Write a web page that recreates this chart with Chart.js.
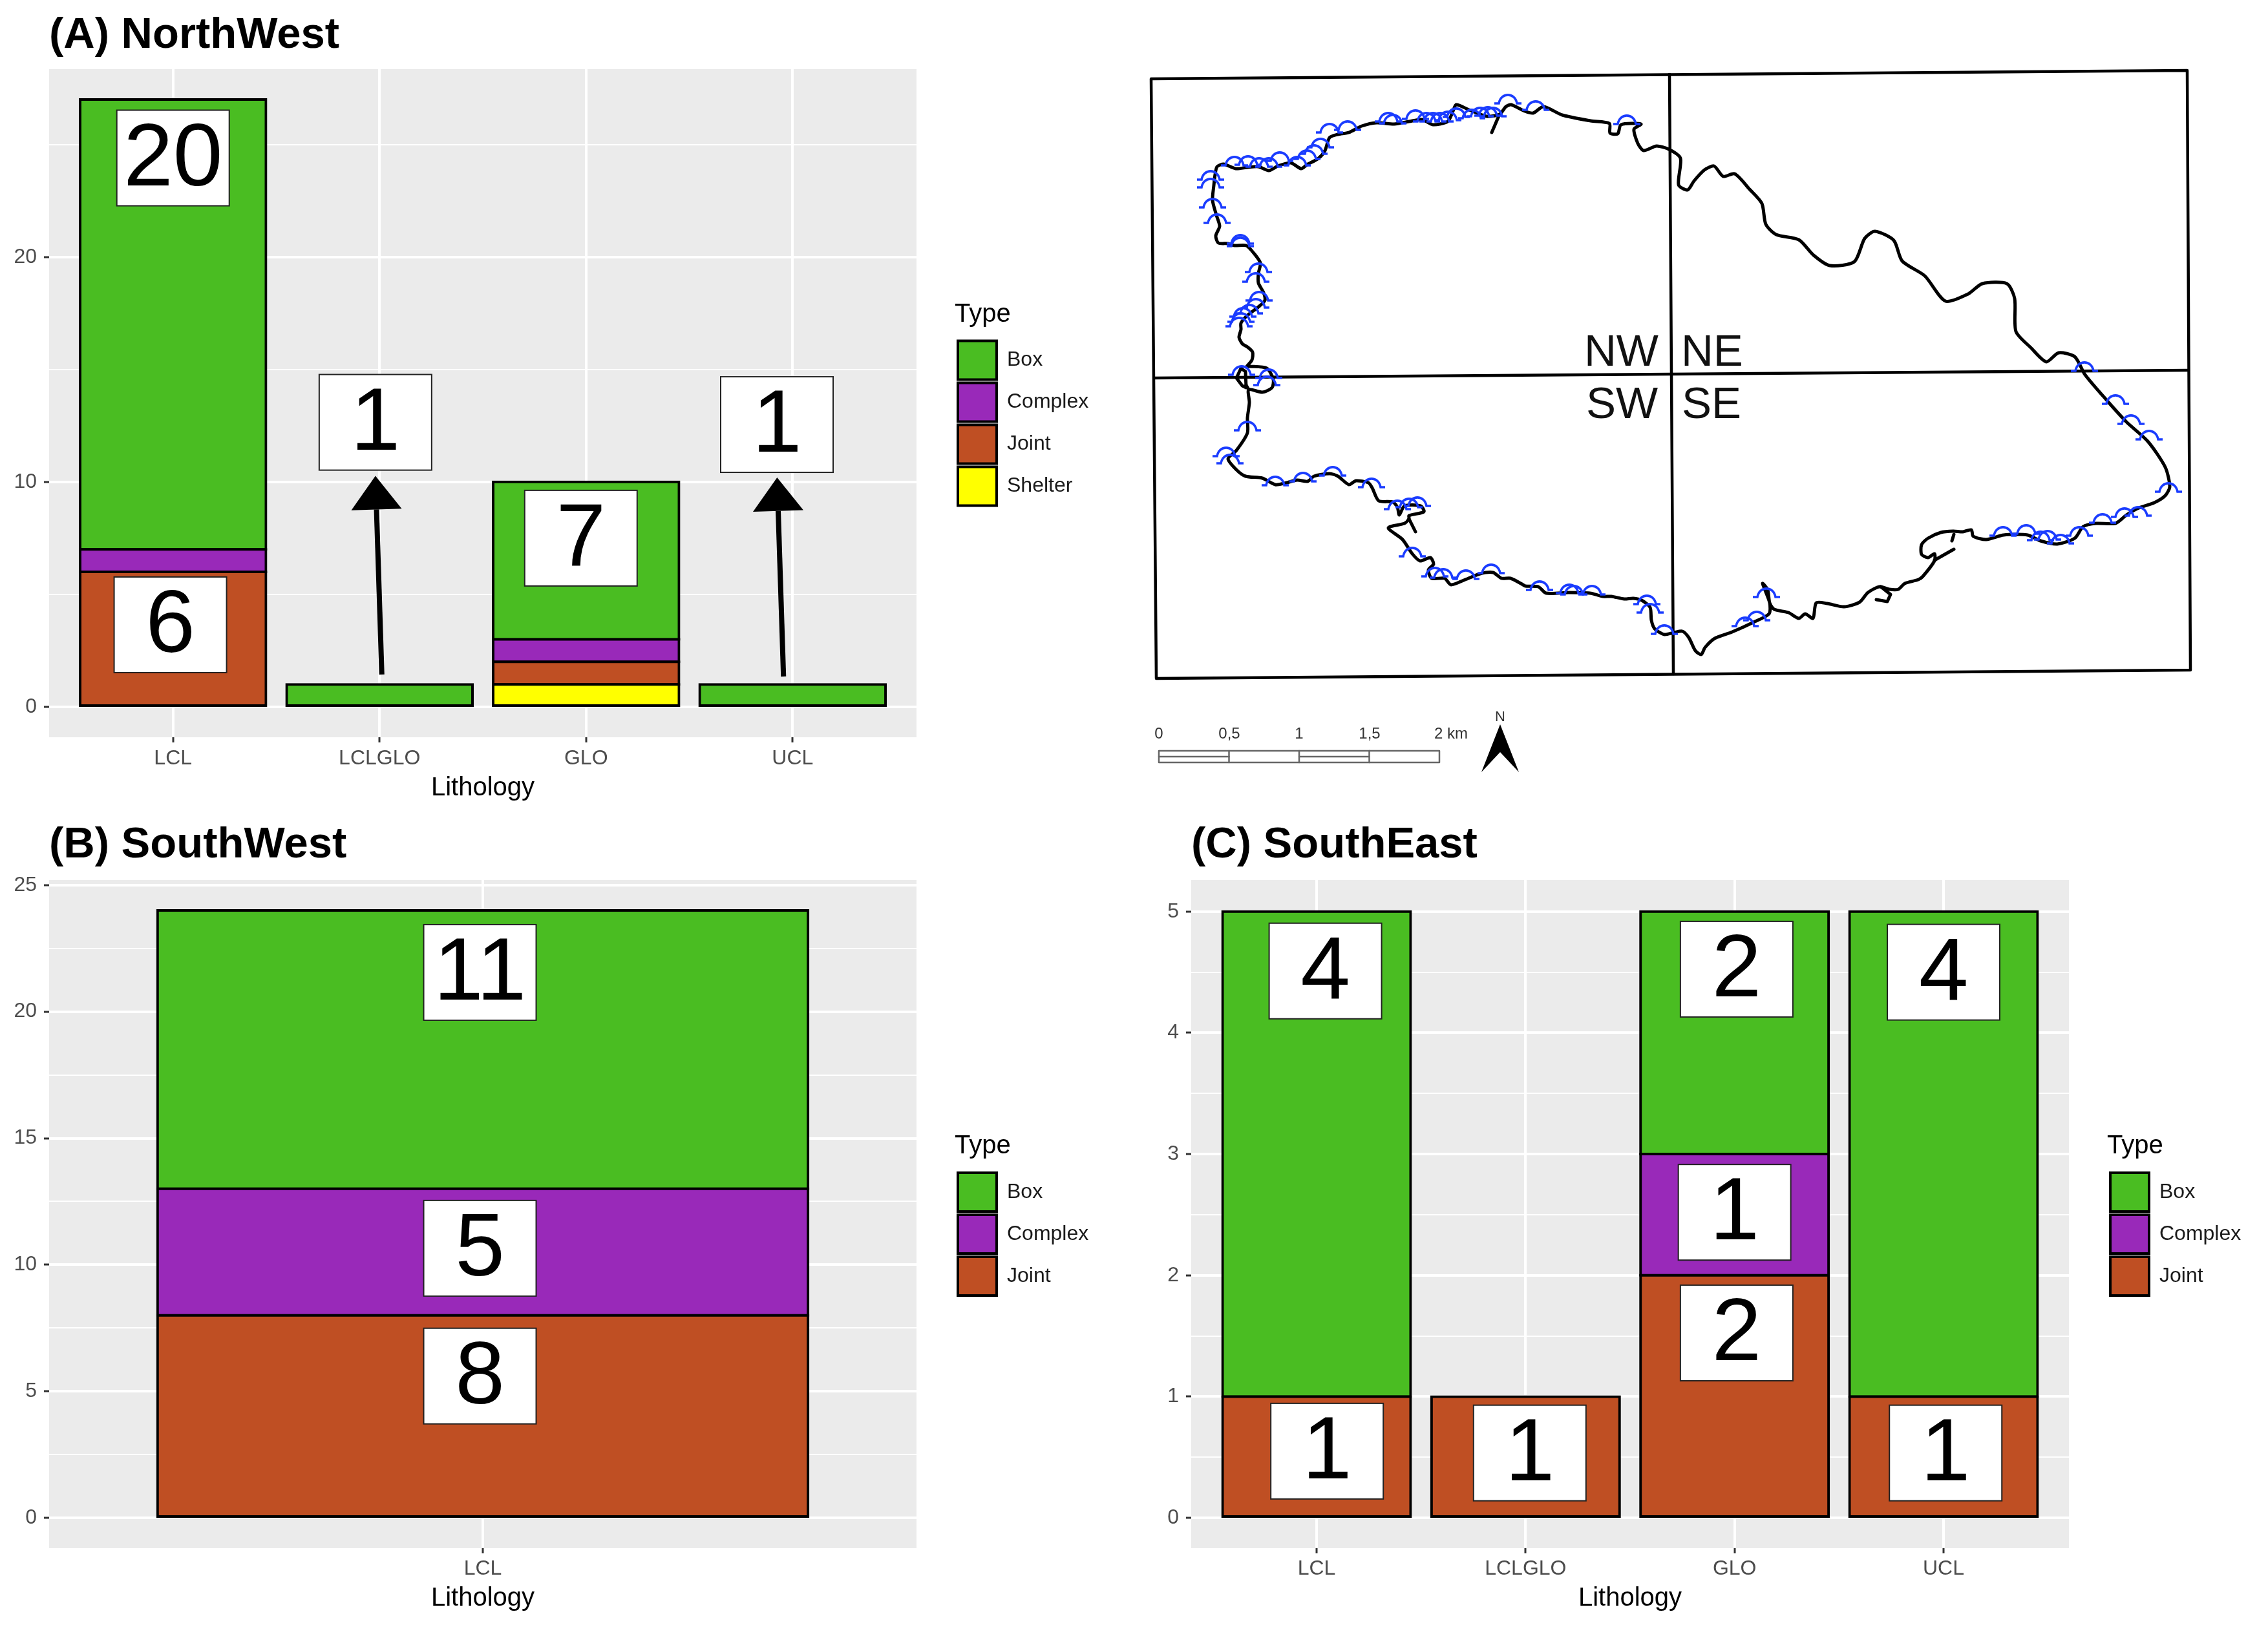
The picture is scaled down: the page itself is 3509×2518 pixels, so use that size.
<!DOCTYPE html>
<html>
<head>
<meta charset="utf-8">
<title>Lithology by type</title>
<script src="https://cdn.jsdelivr.net/npm/chart.js@4"></script>
<style>
  html, body { margin: 0; background: #fff; }
  body { position: relative; width: 3509px; height: 2518px; overflow: hidden; }
  canvas { position: absolute; }
</style>
</head>
<body>
<canvas id="panelA" width="1750" height="1260" style="left:0;top:0"></canvas>
<canvas id="panelMap" width="1700" height="1150" style="left:1750px;top:80px"></canvas>
<canvas id="panelB" width="1750" height="1258" style="left:0;top:1260px"></canvas>
<canvas id="panelC" width="1729" height="1258" style="left:1780px;top:1260px"></canvas>
<script>
// Panel A, NorthWest
const catsA = ["LCL", "LCLGLO", "GLO", "UCL"];
const boxA = [20, 1, 7, 1];
const complexA = [1, 0, 1, 0];
const jointA = [6, 0, 1, 0];
const shelterA = [0, 0, 1, 0];
const ticksA = [0, 10, 20];

// Panel B, SouthWest
const catsB = ["LCL"];
const boxB = [11];
const complexB = [5];
const jointB = [8];
const ticksB = [0, 5, 10, 15, 20, 25];

// Panel C, SouthEast
const catsC = ["LCL", "LCLGLO", "GLO", "UCL"];
const boxC = [4, 0, 2, 4];
const complexC = [0, 0, 1, 0];
const jointC = [1, 1, 2, 1];
const ticksC = [0, 1, 2, 3, 4, 5];

const typeColors = { Box: "#4ABD22", Complex: "#9929B9", Joint: "#BF4F23", Shelter: "#FFFF00" };

// white count labels placed over the bars, in axis units
const labelsA = [
  { text: "20", x: 1.0, y: 24.4 }, { text: "6", x: 0.987, y: 3.65 },
  { text: "1", x: 1.98, y: 12.65 }, { text: "7", x: 2.975, y: 7.5 },
  { text: "1", x: 3.924, y: 12.55 },
];
const labelsB = [
  { text: "11", x: 0.996, y: 21.55 }, { text: "5", x: 0.996, y: 10.65 }, { text: "8", x: 0.996, y: 5.6 },
];
const labelsC = [
  { text: "4", x: 1.042, y: 4.51 }, { text: "1", x: 1.05, y: 0.55 },
  { text: "1", x: 2.02, y: 0.535 }, { text: "2", x: 3.01, y: 4.525 },
  { text: "1", x: 3.0, y: 2.52 }, { text: "2", x: 3.01, y: 1.525 },
  { text: "4", x: 4.0, y: 4.5 }, { text: "1", x: 4.01, y: 0.535 },
];
const arrowsA = [
  { x0: 2.011, y0: 1.44, x1: 1.98, y1: 10.27 },
  { x0: 3.956, y0: 1.35, x1: 3.925, y1: 10.2 },
];

// Map outline
const coast = [
  [1929,567],[1937,557],[1938,545],[1930,537],[1922,532],[1917,522],[1920,510],[1920,500],[1930,488],[1947,475],
  [1957,465],[1955,453],[1947,438],[1947,423],[1950,407],[1940,392],[1928,380],[1910,380],[1900,377],[1885,376],
  [1881,365],[1887,350],[1882,333],[1876,310],[1878,287],[1880,270],[1883,258],[1893,254],[1912,261],[1930,259],
  [1947,258],[1963,264],[1977,257],[1997,252],[2013,261],[2022,255],[2040,245],[2050,233],[2057,213],[2070,208],
  [2087,205],[2107,195],[2130,190],[2157,192],[2180,188],[2200,185],[2217,193],[2240,188],[2248,172],[2253,162],
  [2273,170],[2300,180],[2320,177],[2330,165],[2338,162],[2359,172],[2372,175],[2388,165],[2417,178],[2461,187],
  [2490,191],[2491,206],[2503,207],[2508,193],[2539,192],[2528,200],[2534,222],[2543,233],[2563,226],[2582,231],
  [2600,245],[2597,286],[2611,294],[2621,280],[2637,263],[2652,257],[2666,273],[2684,269],[2707,293],[2726,315],
  [2732,347],[2748,363],[2783,371],[2806,395],[2831,411],[2869,405],[2885,369],[2901,358],[2930,372],[2943,404],
  [2978,427],[3010,466],[3045,455],[3067,439],[3105,439],[3117,462],[3119,513],[3142,538],[3166,560],[3185,546],
  [3210,552],[3226,580],[3260,620],[3290,653],[3323,683],[3350,723],[3357,753],[3350,767],[3333,778],[3307,787],
  [3290,797],[3273,810],[3243,810],[3223,815],[3210,833],[3183,842],[3157,837],[3137,828],[3100,828],[3073,835],
  [3053,830],[3050,820],[3037,823],[3022,822],[3003,824],[2983,833],[2973,843],[2973,858],[2983,863],[2993,857],
  [2993,868],[2975,892],[2968,897],[2947,903],[2937,912],[2923,912],[2908,908],[2890,917],[2877,932],[2853,939],
  [2827,934],[2810,933],[2805,957],[2793,950],[2783,957],[2767,948],[2745,943],[2738,933],[2735,913],[2727,903],
  [2738,933],[2737,950],[2713,963],[2680,978],[2653,988],[2638,1002],[2632,1013],[2623,1007],[2613,987],[2603,977],
  [2590,979],[2575,982],[2560,973],[2555,960],[2553,940],[2540,929],[2527,926],[2513,927],[2493,923],[2480,923],
  [2460,918],[2427,917],[2392,918],[2380,908],[2360,907],[2353,903],[2337,895],[2323,895],[2310,886],[2290,888],
  [2267,897],[2245,905],[2235,895],[2215,895],[2210,882],[2218,873],[2213,863],[2197,868],[2185,857],[2170,835],
  [2148,817],[2173,810],[2180,803],[2180,798],[2203,792],[2198,783],[2173,783],[2165,797],[2162,785],[2155,777],
  [2133,775],[2123,755],[2117,747],[2098,744],[2087,750],[2070,737],[2057,733],[2033,737],[2023,745],[2007,743],
  [1987,748],[1973,750],[1953,740],[1927,737],[1913,727],[1900,710],[1913,697],[1930,670],[1930,647],[1933,623],
  [1932,603],[1953,607],[1968,600],[1970,587],[1960,570],[1933,567],[1929,567],
];
const coastSpurs = [
  [[2320,177],[2308,205]],
  [[3023,850],[2993,867]],
  [[3023,827],[3020,837]],
  [[2903,928],[2920,931],[2925,920],[2910,908]],
  [[2180,803],[2190,823]],
  [[1920,570],[1913,585],[1922,597],[1928,600],[1927,575],[1920,570]],
  [[1932,603],[1928,596]],
];
const archSites = [
  [1873,271],[1873,283],[1876,314],[1883,338],[1919,370],[1919,374],[1947,414],[1943,429],[1948,458],[1943,469],
  [1933,478],[1923,483],[1920,491],[1917,498],[1921,573],[1963,578],[1960,589],[1910,249],[1931,248],[1948,251],
  [1963,251],[1980,242],[2007,249],[2022,239],[2033,231],[2043,221],[2057,198],[2085,194],[2148,181],[2155,184],
  [2190,177],[2207,181],[2217,181],[2228,181],[2240,179],[2253,174],[2277,176],[2290,173],[2302,172],[2310,173],
  [2333,153],[2376,163],[2517,185],[1930,659],[1897,699],[1903,710],[1973,744],[2016,738],[2062,729],[2122,747],
  [2162,781],[2180,778],[2193,776],[2185,854],[2220,885],[2233,887],[2268,889],[2307,880],[2382,906],[2428,911],
  [2435,913],[2463,913],[2548,928],[2553,941],[2575,974],[2700,962],[2718,953],[2733,917],[3225,567],[3273,618],
  [3297,649],[3325,673],[3355,754],[3308,791],[3287,793],[3253,802],[3217,822],[3188,834],[3168,828],[3157,829],
  [3135,819],[3099,822],
];
const frameOuter = [[1781,122],[3384,109],[3389,1037],[1789,1050],[1781,122]];
const frameH = [[1786,585],[3386,573]];
const frameV = [[2583,115],[2589,1043]];
const kmBar = [[1793,1162],[2227,1162],[2227,1180],[1793,1180],[1793,1162]];
const kmTicks = [[[1901.5,1162],[1901.5,1180]], [[2010,1162],[2010,1180]], [[2118.5,1162],[2118.5,1180]],
  [[1793,1171],[1901.5,1171]], [[2010,1171],[2118.5,1171]]];
const kmLabels = [["0",1793], ["0,5",1902], ["1",2010], ["1,5",2119], ["2 km",2245]];
const northArrow = [[2321,1121],[2350,1195],[2321,1164],[2292,1195]];
const zoneLabels = [["NW",2451,566],["NE",2601,566],["SW",2454,647],["SE",2602,647]];

Chart.defaults.font.family = '"Liberation Sans", Arial, Helvetica, sans-serif';

function panelChart(id, cfg) {
  const isMajor = (v) => cfg.majors.includes(v);
  const overlay = {
    id: "overlay",
    beforeDraw(chart) {
      const a = chart.chartArea;
      chart.ctx.fillStyle = "#EBEBEB";
      chart.ctx.fillRect(a.left, a.top, a.right - a.left, a.bottom - a.top);
    },
    afterLayout(chart) {
      // legend sits apart from the plot, its box is only used for the text clip
      chart.legend.left = cfg.legendLeft;
      chart.legend.right = cfg.legendLeft + 260;
    },
    afterDatasetsDraw(chart) {
      const { ctx, scales: { x, y } } = chart;
      ctx.save();
      (cfg.arrows || []).forEach((ar) => {
        const x0 = x.getPixelForValue(ar.x0), y0 = y.getPixelForValue(ar.y0);
        const x1 = x.getPixelForValue(ar.x1), y1 = y.getPixelForValue(ar.y1);
        const ang = Math.atan2(y1 - y0, x1 - x0);
        const bx = x1 - 52 * Math.cos(ang), by = y1 - 52 * Math.sin(ang);
        ctx.strokeStyle = "#000";
        ctx.lineWidth = 8;
        ctx.beginPath(); ctx.moveTo(x0, y0); ctx.lineTo(bx, by); ctx.stroke();
        ctx.fillStyle = "#000";
        ctx.beginPath();
        ctx.moveTo(x1, y1);
        ctx.lineTo(bx + 39 * Math.sin(ang), by - 39 * Math.cos(ang));
        ctx.lineTo(bx - 39 * Math.sin(ang), by + 39 * Math.cos(ang));
        ctx.closePath(); ctx.fill();
      });
      cfg.labels.forEach((lb) => {
        const px = x.getPixelForValue(lb.x), py = y.getPixelForValue(lb.y);
        ctx.fillStyle = "#fff";
        ctx.fillRect(px - 87, py - 74, 174, 148);
        ctx.strokeStyle = "#222";
        ctx.lineWidth = 2;
        ctx.strokeRect(px - 87, py - 74, 174, 148);
        ctx.fillStyle = "#000";
        ctx.font = '138px "Liberation Sans", Arial, sans-serif';
        ctx.textAlign = "center";
        ctx.textBaseline = "alphabetic";
        ctx.fillText(lb.text, px, py + 42);
      });
      ctx.restore();
    },
  };
  return new Chart(document.getElementById(id), {
    type: "bar",
    data: {
      // ggplot stacks the first level on top, Chart.js the first dataset at the bottom
      datasets: Object.keys(cfg.series).reverse().map((name) => ({
        label: name,
        data: cfg.series[name].map((v, i) => ({ x: i + 1, y: v })).filter((d) => d.y > 0),
        backgroundColor: typeColors[name],
        borderColor: "#000",
        borderWidth: 4,
        inflateAmount: 2, // centres the outline on the bar edge like ggplot
        borderSkipped: false,
        barPercentage: cfg.barPct,
        categoryPercentage: 1,
      })),
    },
    options: {
      responsive: false,
      animation: false,
      events: [],
      layout: { padding: { right: cfg.rightPad } },
      scales: {
        x: {
          type: "linear",
          stacked: true,
          offset: false,
          min: 0.4,
          max: cfg.cats.length + 0.6,
          afterFit: (s) => { s.height = cfg.axisH; },
          border: { display: false },
          grid: { offset: false, color: "#fff", lineWidth: 4, tickColor: "#333", tickLength: 8, tickWidth: 3 },
          ticks: {
            stepSize: 1, includeBounds: false, autoSkip: false, maxRotation: 0, padding: cfg.xPad,
            color: "#4D4D4D", font: { size: 32 },
            callback: (v) => cfg.cats[v - 1],
          },
          title: {
            display: true, text: "Lithology", color: "#000", font: { size: 40 },
            padding: { top: 0, bottom: cfg.xTitlePad },
          },
        },
        y: {
          stacked: true,
          min: cfg.yMin,
          max: cfg.yMax,
          afterFit: (s) => { s.width = cfg.axisW; },
          border: { display: false },
          grid: {
            color: "#fff",
            lineWidth: (c) => (isMajor(c.tick.value) ? 4 : 2),
            tickColor: (c) => (isMajor(c.tick.value) ? "#333" : "rgba(0,0,0,0)"),
            tickLength: 8,
            tickWidth: 3,
          },
          ticks: {
            stepSize: cfg.yStep, includeBounds: false, autoSkip: false, padding: 11,
            color: "#4D4D4D", font: { size: 32 },
            callback: (v) => (isMajor(v) ? String(v) : ""),
          },
        },
      },
      plugins: {
        tooltip: { enabled: false },
        title: {
          display: true, text: cfg.title, align: "start", fullSize: false, color: "#000",
          font: { size: 67, weight: "bold" }, padding: cfg.titlePad,
        },
        legend: {
          position: "right", align: "center", fullSize: false, maxWidth: 100, reverse: true,
          labels: { boxWidth: 60, boxHeight: 60, padding: 5, color: "#1a1a1a", font: { size: 32 } },
          title: {
            display: true, text: "Type", position: "start", color: "#000",
            font: { size: 40 }, padding: { top: 6, bottom: 8 },
          },
        },
      },
    },
    plugins: [overlay],
  });
}

panelChart("panelA", {
  title: "(A) NorthWest", cats: catsA, labels: labelsA, arrows: arrowsA,
  series: { Box: boxA, Complex: complexA, Joint: jointA, Shelter: shelterA },
  majors: ticksA, yMin: -1.35, yMax: 28.35, yStep: 5, barPct: 0.9,
  axisW: 76, axisH: 119, xPad: 6, xTitlePad: 16, rightPad: 232, legendLeft: 1477,
  titlePad: { top: 15, bottom: 11.6 },
});
panelChart("panelB", {
  title: "(B) SouthWest", cats: catsB, labels: labelsB,
  series: { Box: boxB, Complex: complexB, Joint: jointB },
  majors: ticksB, yMin: -1.2, yMax: 25.2, yStep: 2.5, barPct: 0.75,
  axisW: 76, axisH: 122, xPad: 5, xTitlePad: 20, rightPad: 232, legendLeft: 1477,
  titlePad: { top: 8, bottom: 13.6 },
});
panelChart("panelC", {
  title: "(C) SouthEast", cats: catsC, labels: labelsC,
  series: { Box: boxC, Complex: complexC, Joint: jointC },
  majors: ticksC, yMin: -0.25, yMax: 5.26, yStep: 0.5, barPct: 0.9,
  axisW: 63, axisH: 122, xPad: 5, xTitlePad: 20, rightPad: 208, legendLeft: 1480,
  titlePad: { top: 8, bottom: 13.6 },
});

// cave symbol used along the cliff line
const arch = document.createElement("canvas");
arch.width = 46;
arch.height = 20;
const ac = arch.getContext("2d");
ac.strokeStyle = "#1A3CFF";
ac.lineWidth = 3.6;
ac.beginPath();
ac.moveTo(2, 17);
ac.lineTo(9, 17);
ac.bezierCurveTo(12, -0.5, 34, -0.5, 37, 17);
ac.lineTo(44, 17);
ac.stroke();

const toXY = (pts) => pts.map((p) => ({ x: p[0], y: p[1] }));
const lineSet = (pts, color, width, tension) => ({
  data: toXY(pts), showLine: true, pointRadius: 0, borderColor: color, borderWidth: width,
  tension: tension || 0, borderJoinStyle: "round", borderCapStyle: "round", clip: false,
});

const mapOverlay = {
  id: "mapOverlay",
  afterDatasetsDraw(chart) {
    const { ctx, scales: { x, y } } = chart;
    ctx.save();
    ctx.fillStyle = "#000";
    ctx.beginPath();
    northArrow.forEach((p, i) => {
      if (i === 0) ctx.moveTo(x.getPixelForValue(p[0]), y.getPixelForValue(p[1]));
      else ctx.lineTo(x.getPixelForValue(p[0]), y.getPixelForValue(p[1]));
    });
    ctx.closePath();
    ctx.fill();
    ctx.font = '69px "Liberation Sans", Arial, sans-serif';
    ctx.textBaseline = "alphabetic";
    ctx.textAlign = "left";
    ctx.fillStyle = "#111";
    zoneLabels.forEach((z) => ctx.fillText(z[0], x.getPixelForValue(z[1]), y.getPixelForValue(z[2])));
    ctx.font = '24px "Liberation Sans", Arial, sans-serif';
    ctx.textAlign = "center";
    ctx.textBaseline = "middle";
    ctx.fillStyle = "#333";
    kmLabels.forEach((k) => ctx.fillText(k[0], x.getPixelForValue(k[1]), y.getPixelForValue(1136)));
    ctx.font = '22px "Liberation Sans", Arial, sans-serif';
    ctx.fillText("N", x.getPixelForValue(2321), y.getPixelForValue(1110));
    ctx.restore();
  },
};

new Chart(document.getElementById("panelMap"), {
  type: "scatter",
  data: {
    datasets: [
      { data: toXY(archSites), pointStyle: arch, pointRadius: 10, showLine: false, clip: false },
      lineSet(coast, "#000", 5, 0.25),
      ...coastSpurs.map((s) => lineSet(s, "#000", 5)),
      lineSet(frameOuter, "#000", 4.5),
      lineSet(frameH, "#000", 4.5),
      lineSet(frameV, "#000", 4.5),
      lineSet(kmBar, "#666", 2.5),
      ...kmTicks.map((s) => lineSet(s, "#666", 2.5)),
    ],
  },
  options: {
    responsive: false,
    animation: false,
    events: [],
    layout: { padding: 0, autoPadding: false },
    scales: {
      x: { type: "linear", display: false, min: 1750, max: 3450 },
      y: { type: "linear", display: false, min: 80, max: 1230, reverse: true },
    },
    plugins: { legend: { display: false }, tooltip: { enabled: false } },
  },
  plugins: [mapOverlay],
});
</script>
</body>
</html>
